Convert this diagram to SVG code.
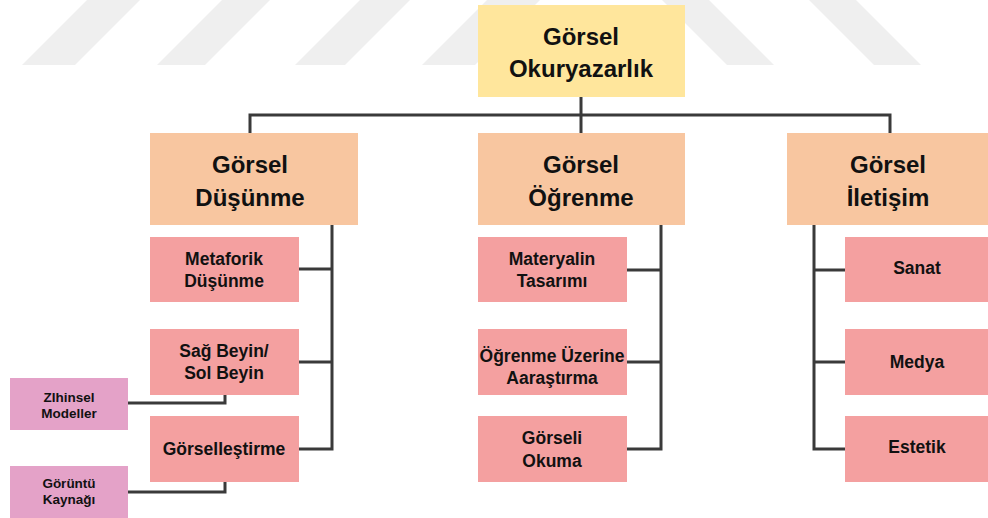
<svg xmlns="http://www.w3.org/2000/svg" width="988" height="518" viewBox="0 0 988 518">
<style>
.t{font-family:"Liberation Sans",Arial,sans-serif;font-weight:bold;fill:#111;text-anchor:middle}
.big{font-size:24px}
.mid{font-size:17.5px}
.sm{font-size:13.5px}
.wm{fill:#efefef}
.c{fill:none;stroke:#3a3a3a;stroke-width:3;stroke-linejoin:miter}
</style>
<rect width="988" height="518" fill="#ffffff"/>
<g id="watermark">
<polygon class="wm" points="22,65 75,65 140,0 87,0"/>
<polygon class="wm" points="157,65 205,65 270,0 222,0"/>
<polygon class="wm" points="295,65 345,65 410,0 360,0"/>
<polygon class="wm" points="422,65 475,65 540,0 487,0"/>
<polygon class="wm" points="727,65 774,65 709,0 662,0"/>
<polygon class="wm" points="874,65 921,65 856,0 809,0"/>
</g>
<g id="connectors">
<path class="c" d="M581,97 V115 M250,133 V115 H890 V133 M581,115 V133"/>
<path class="c" d="M332,225 V449 H299 M299,269 H332 M299,362 H332"/>
<path class="c" d="M661,225 V449 H627 M627,270 H661 M627,362 H661"/>
<path class="c" d="M814,225 V449 H845 M814,270 H845 M814,362 H845"/>
<path class="c" d="M225,395 V403 H128"/>
<path class="c" d="M225,482 V492 H128"/>
</g>
<g id="n-root">
<rect x="478" y="5" width="207" height="92" fill="#ffe69c"/>
<text class="t big" x="581" y="45">Görsel</text>
<text class="t big" x="581" y="77">Okuryazarlık</text>
</g>
<g id="n-dusunme">
<rect x="150" y="133" width="208" height="92" fill="#f8c6a0"/>
<text class="t big" x="250" y="173">Görsel</text>
<text class="t big" x="250" y="206">Düşünme</text>
</g>
<g id="n-ogrenme">
<rect x="478" y="133" width="207" height="92" fill="#f8c6a0"/>
<text class="t big" x="581" y="173">Görsel</text>
<text class="t big" x="581" y="206">Öğrenme</text>
</g>
<g id="n-iletisim">
<rect x="787" y="133" width="207" height="92" fill="#f8c6a0"/>
<text class="t big" x="888" y="173">Görsel</text>
<text class="t big" x="888" y="206">İletişim</text>
</g>
<g id="n-metaforik">
<rect x="150" y="237" width="149" height="65" fill="#f4a0a0"/>
<text class="t mid" x="224" y="265">Metaforik</text>
<text class="t mid" x="224" y="287">Düşünme</text>
</g>
<g id="n-sagbeyin">
<rect x="150" y="329" width="149" height="66" fill="#f4a0a0"/>
<text class="t mid" x="224" y="357">Sağ Beyin/</text>
<text class="t mid" x="224" y="379">Sol Beyin</text>
</g>
<g id="n-gorsellestirme">
<rect x="150" y="416" width="149" height="66" fill="#f4a0a0"/>
<text class="t mid" x="224" y="455">Görselleştirme</text>
</g>
<g id="n-zihinsel">
<rect x="10" y="378" width="118" height="52" fill="#e4a2c8"/>
<text class="t sm" x="69" y="402">ZIhinsel</text>
<text class="t sm" x="69" y="418">Modeller</text>
</g>
<g id="n-goruntu">
<rect x="10" y="466" width="118" height="55" fill="#e4a2c8"/>
<text class="t sm" x="69" y="488">Görüntü</text>
<text class="t sm" x="69" y="504">Kaynağı</text>
</g>
<g id="n-materyal">
<rect x="478" y="237" width="149" height="65" fill="#f4a0a0"/>
<text class="t mid" x="552" y="265">Materyalin</text>
<text class="t mid" x="552" y="287">Tasarımı</text>
</g>
<g id="n-arastirma">
<rect x="478" y="329" width="149" height="66" fill="#f4a0a0"/>
<text class="t mid" x="552" y="362">Öğrenme Üzerine</text>
<text class="t mid" x="552" y="384">Aaraştırma</text>
</g>
<g id="n-okuma">
<rect x="478" y="416" width="149" height="66" fill="#f4a0a0"/>
<text class="t mid" x="552" y="444">Görseli</text>
<text class="t mid" x="552" y="467">Okuma</text>
</g>
<g id="n-sanat">
<rect x="845" y="237" width="149" height="65" fill="#f4a0a0"/>
<text class="t mid" x="917" y="274">Sanat</text>
</g>
<g id="n-medya">
<rect x="845" y="329" width="149" height="66" fill="#f4a0a0"/>
<text class="t mid" x="917" y="368">Medya</text>
</g>
<g id="n-estetik">
<rect x="845" y="416" width="149" height="66" fill="#f4a0a0"/>
<text class="t mid" x="917" y="453">Estetik</text>
</g>
</svg>
